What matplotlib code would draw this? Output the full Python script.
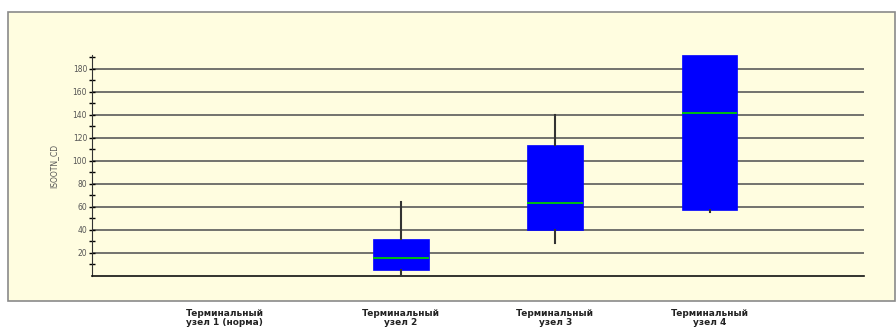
import matplotlib.pyplot as plt
import matplotlib.transforms as mtransforms
from matplotlib.patches import Rectangle

# box statistics (node 1 has no box)
nodes = ['Терминальный\nузел 1 (норма)', 'Терминальный\nузел 2',
         'Терминальный\nузел 3', 'Терминальный\nузел 4']
q1 = [None, 5, 40, 57]
med = [None, 16, 63, 142]
q3 = [None, 32, 114, 192]
whislo = [None, 1, 29, 56]
whishi = [None, 64, 140, 192]

fig = plt.figure(figsize=(8.96, 3.31), dpi=100)
fig.patches.append(Rectangle((8/896, 1-301/331), 887/896, 289/331, transform=fig.transFigure,
                             facecolor='#fffde0', edgecolor='#8a8a8a', lw=1.2, zorder=-10))

ax = fig.add_axes([92/896, 1-276/331, 772/896, 221/331])
ax.set_facecolor('none')

stats = []
pos = []
for i in range(len(nodes)):
    if med[i] is None:
        continue
    stats.append(dict(med=med[i], q1=q1[i], q3=q3[i], whislo=whislo[i], whishi=whishi[i], fliers=[]))
    pos.append(i + 1)

ax.bxp(stats, positions=pos, widths=0.36, patch_artist=True, showcaps=False,
       boxprops=dict(facecolor='#0000ff', edgecolor='#0000ff', lw=0.5),
       medianprops=dict(color='#00cc00', lw=1.3),
       whiskerprops=dict(color='#333333', lw=1.5), zorder=3)

ax.set_xlim(0, 5)
ax.set_ylim(0, 192)
ax.set_yticks(range(20, 181, 20))
ax.set_yticks(range(10, 191, 20), minor=True)
for y in range(20, 181, 20):
    ax.axhline(y, color='#5a5a5a', lw=1.2, zorder=1)
ax.tick_params(axis='y', which='both', direction='inout', length=5, width=1,
               labelsize=5.5, labelcolor='#555555', pad=1)
ax.set_xticks(range(1, 5))
ax.set_xticklabels(nodes, fontsize=6.5, fontweight='bold', color='#222222', linespacing=1.0)
ax.tick_params(axis='x', length=0, pad=24)
# first label sits a bit left of its slot in the original
lab0 = ax.get_xticklabels()[0]
lab0.set_transform(lab0.get_transform() + mtransforms.ScaledTranslation(-0.22, 0, fig.dpi_scale_trans))
ax.set_ylabel('ISOOTN_CD', fontsize=5.5, color='#555555', labelpad=10)
for s in ['top', 'right']:
    ax.spines[s].set_visible(False)
ax.spines['left'].set_color('#333333')
ax.spines['bottom'].set_color('#111111')
ax.spines['bottom'].set_linewidth(1.2)

fig.savefig('out.png', dpi=100)
